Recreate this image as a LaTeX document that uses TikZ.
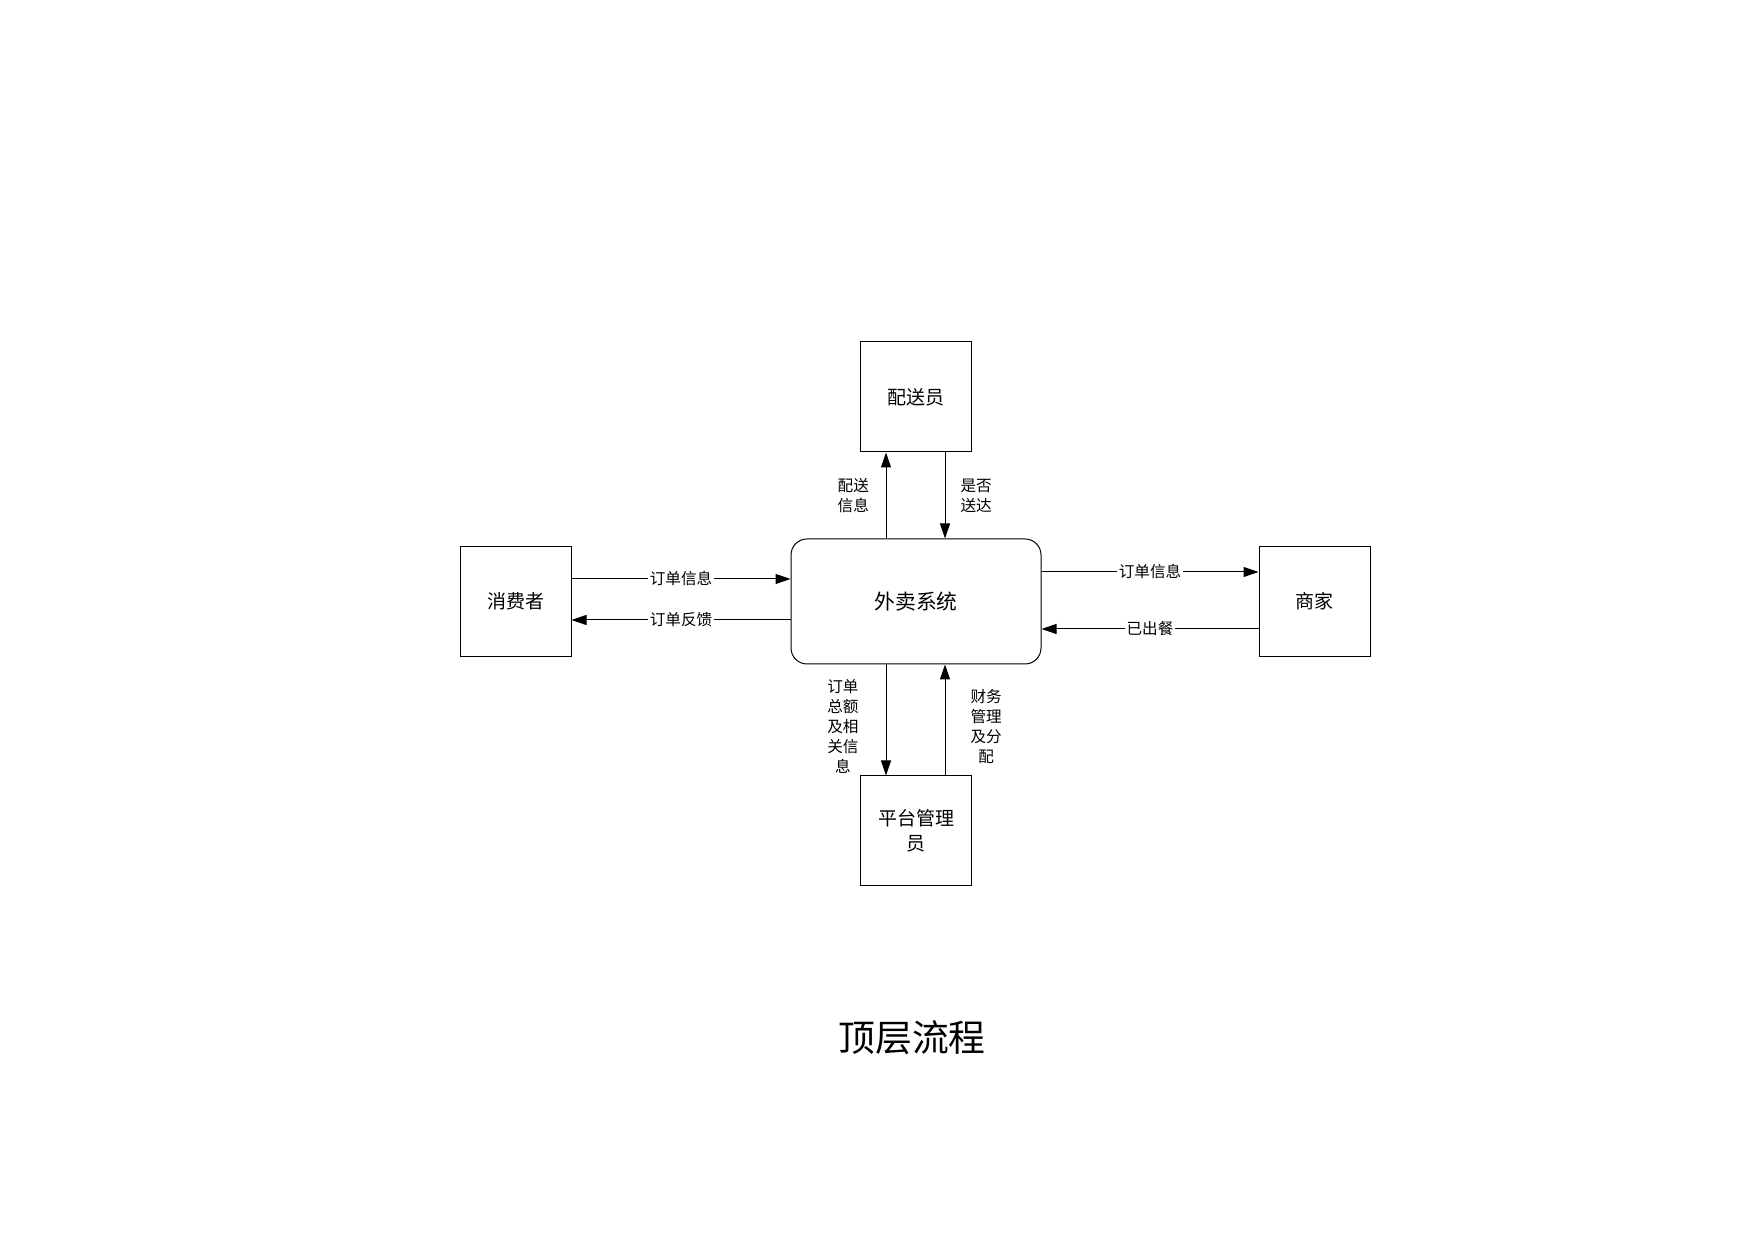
\documentclass[tikz,border=0pt]{standalone}
\usepackage{fontspec}
\setmainfont{Noto Sans CJK SC}
\usepackage{tikz}
\usetikzlibrary{positioning, arrows.meta}
\tikzstyle{ent}=[%
      rectangle, draw=black, line width=0.5pt, align=center,
      minimum width=55.5pt, minimum height=55pt, inner sep=2pt,
      font=\fontsize{9.5}{12.5}\selectfont
]
\tikzstyle{proc}=[%
      rectangle, rounded corners=8pt, draw=black, line width=0.5pt,
      minimum width=125pt, minimum height=62.5pt,
      font=\fontsize{10.4}{13}\selectfont
]
\tikzstyle{lbl}=[%
      inner sep=1pt, align=center,
      font=\fontsize{7.8}{10}\selectfont
]
\tikzstyle{ttl}=[%
      inner sep=0pt, font=\fontsize{18.4}{22}\selectfont
]

\begin{document}
\begin{tikzpicture}[
    ->,
    >={Triangle[length=7.5pt, width=5pt]},
    line width=0.5pt,
]
    \path[use as bounding box, -] (0,0) rectangle (877pt,620pt);

    \node[proc] (sys)   at (458pt,319.25pt)       {外卖系统};
    \node[ent]  (cons)  [left  = 109.5pt of sys]  {消费者};
    \node[ent]  (shop)  [right = 108.5pt of sys]  {商家};
    \node[ent]  (rider) [above = 43pt of sys]     {配送员};
    \node[ent]  (admin) [below = 55.5pt of sys]   {平台管理\\员};

    \path ([yshift=11.25pt]cons.east)  edge node[lbl, fill=white] {订单信息} ([yshift=11.25pt]sys.west)
          ([yshift=-9.25pt]sys.west)   edge node[lbl, fill=white] {订单反馈} ([yshift=-9.25pt]cons.east)
          ([yshift=14.75pt]sys.east)   edge node[lbl, fill=white] {订单信息} ([yshift=14.75pt]shop.west)
          ([yshift=-13.75pt]shop.west) edge node[lbl, fill=white] {已出餐}   ([yshift=-13.75pt]sys.east)
          ([xshift=-15pt]sys.north)    edge node[lbl, left=7.3pt] {配送\\信息} ([xshift=-15pt]rider.south)
          ([xshift=14.5pt]rider.south) edge node[lbl, right=6.5pt] {是否\\送达} ([xshift=14.5pt]sys.north)
          ([xshift=-15pt]sys.south)    edge node[lbl, left=12.5pt, yshift=-3pt] {订单\\总额\\及相\\关信\\息} ([xshift=-15pt]admin.north)
          ([xshift=14.5pt]admin.north) edge node[lbl, right=11.5pt, yshift=-3.5pt] {财务\\管理\\及分\\配} ([xshift=14.5pt]sys.south)
    ;

    \node[ttl] (title) at (456pt,101pt) {顶层流程};
\end{tikzpicture}
\end{document}
